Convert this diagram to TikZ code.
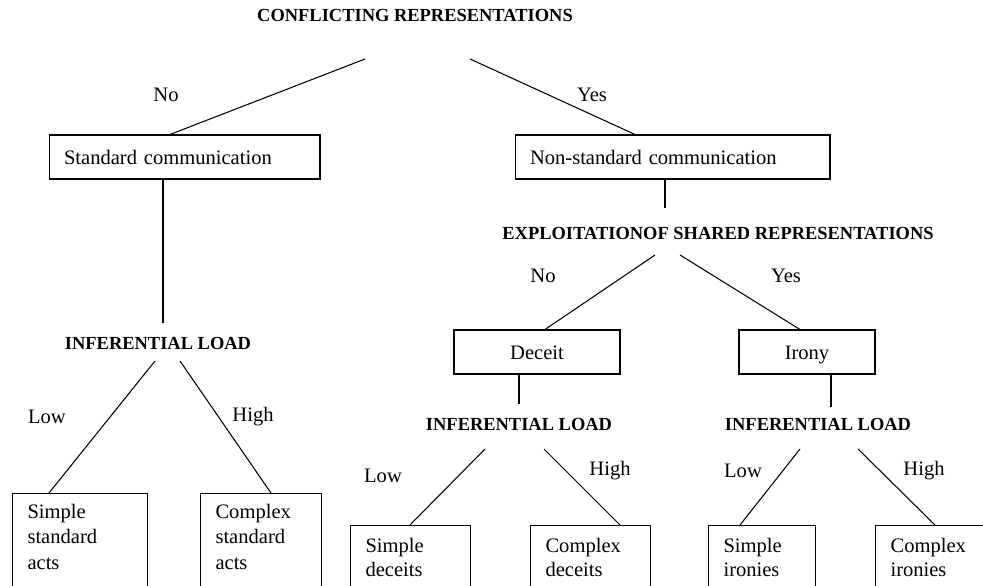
\documentclass[tikz,border=0pt]{standalone}
\usepackage{fontspec}
\setmainfont{Liberation Serif}
\usetikzlibrary{calc}
\begin{document}
\begin{tikzpicture}[x=0.02cm,y=-0.02cm,line width=0.6pt,
  txt/.style={font=\fontsize{11.7}{13.5}\selectfont},
  head/.style={font=\fontsize{10.5}{12}\selectfont\bfseries},
  box/.style={rectangle,draw,txt,minimum height=0.88cm,inner ysep=0pt,text height=9pt,text depth=0.5pt},
  lbox/.style={box,align=left,inner xsep=0.3cm},
  leaf/.style={rectangle,draw,txt,anchor=north west,align=left,inner xsep=0.3cm,inner ysep=7.5pt,text depth=1.2cm}]
  \useasboundingbox (0,0) rectangle (983,585);
  \clip (0,0) rectangle (983,585);
  % draw first question
  \node at(415,15)[head](confl){CONFLICTING REPRESENTATIONS};
  \node at(166,95)[txt](confl-no){No};
  \node at(592,95)[txt](confl-yes){Yes};
  \coordinate (confl-l) at (365,59);
  \coordinate (confl-r) at (470,59);
  % draw communication boxes
  \node at(184.5,157)[lbox,text width=4.82cm](std){Standard communication};
  \node at(672.5,157)[lbox,text width=5.7cm](nonstd){Non-standard communication};
  \draw (confl-l) -- ($(std.north)+(-14.5,0)$);
  \draw (confl-r) -- ($(nonstd.north)+(-37.5,0)$);
  % draw second question
  \coordinate (nonstd-v) at (665,208);
  \draw (nonstd.south -| nonstd-v) -- (nonstd-v);
  \node at(718,233)[head](expl){EXPLOITATIONOF SHARED REPRESENTATIONS};
  \node at(543,276)[txt](expl-no){No};
  \node at(786,276)[txt](expl-yes){Yes};
  \coordinate (expl-l) at (655,255);
  \coordinate (expl-r) at (680,255);
  % draw deceit and irony
  \node at(537,352)[box,minimum width=3.32cm](deceit){Deceit};
  \node at(807,352)[box,minimum width=2.72cm](irony){Irony};
  \draw (expl-l) -- ($(deceit.north)+(8,0)$);
  \draw (expl-r) -- ($(irony.north)+(-7,0)$);
  % draw inferential load under standard communication
  \coordinate (std-v) at (163,323);
  \draw (std.south -| std-v) -- (std-v);
  \node at(158,343)[head](inf1){INFERENTIAL LOAD};
  \node at(47,417)[txt](inf1-low){Low};
  \node at(253,417)[txt](inf1-high){High};
  \coordinate (inf1-l) at (155,361);
  \coordinate (inf1-r) at (180,361);
  \node at(12,493)[leaf,inner ysep=6pt,text width=2.1cm,font=\fontsize{11.7}{14.5}\selectfont](ssa){Simple\\standard\\acts};
  \node at(200,493)[leaf,inner ysep=6pt,text width=1.82cm,font=\fontsize{11.7}{14.5}\selectfont](csa){Complex\\standard\\acts};
  \draw (inf1-l) -- ($(ssa.north west)+(37,0)$);
  \draw (inf1-r) -- ($(csa.north west)+(71,0)$);
  % draw inferential load under deceit
  \coordinate (deceit-v) at (519,404);
  \draw (deceit.south -| deceit-v) -- (deceit-v);
  \node at(519,424)[head](inf2){INFERENTIAL LOAD};
  \node at(383,476)[txt](inf2-low){Low};
  \node at(610,471)[txt](inf2-high){High};
  \coordinate (inf2-l) at (485,449);
  \coordinate (inf2-r) at (544,449);
  \node at(350,525)[leaf,text width=1.8cm](sd){Simple\\deceits};
  \node at(530,525)[leaf,text width=1.8cm](cd){Complex\\deceits};
  \draw (inf2-l) -- ($(sd.north west)+(60,0)$);
  \draw (inf2-r) -- ($(cd.north west)+(90,0)$);
  % draw inferential load under irony
  \coordinate (irony-v) at (831,407);
  \draw (irony.south -| irony-v) -- (irony-v);
  \node at(818,424)[head](inf3){INFERENTIAL LOAD};
  \node at(743,471)[txt](inf3-low){Low};
  \node at(924,471)[txt](inf3-high){High};
  \coordinate (inf3-l) at (800,449);
  \coordinate (inf3-r) at (858,449);
  \node at(708,525)[leaf,text width=1.54cm](si){Simple\\ironies};
  \node at(875,525)[leaf,text width=2.2cm](ci){Complex\\ironies};
  \draw (inf3-l) -- ($(si.north west)+(32,0)$);
  \draw (inf3-r) -- ($(ci.north west)+(60,0)$);
\end{tikzpicture}
\end{document}
